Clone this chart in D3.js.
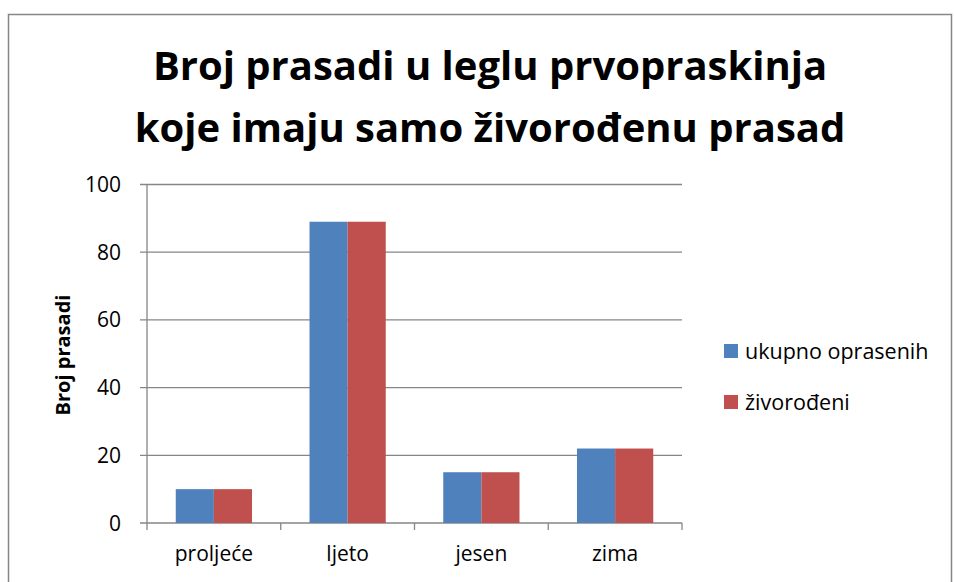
<!DOCTYPE html>
<html><head><meta charset="utf-8">
<script src="https://cdn.jsdelivr.net/npm/d3@7/dist/d3.min.js"></script>
<style>body{margin:0;background:#fff}svg{display:block}text{font-family:"Open Sans","Liberation Sans",sans-serif;fill:#000}</style>
</head><body><svg id="c" width="955" height="582"></svg>
<script>
const categories = ["proljeće","ljeto","jesen","zima"];
const seriesNames = ["ukupno oprasenih","živorođeni"];
const ukupno = [10,89,15,22];
const zivorodeni = [10,89,15,22];
const yTicks = [0,20,40,60,80,100];
const colors = ["#4F81BD","#C0504D"];
const series = [ukupno, zivorodeni];

const svg = d3.select("#c");
svg.append("rect").attr("x",8.5).attr("y",14.5).attr("width",943).attr("height",580)
  .attr("fill","#fff").attr("stroke","#868686").attr("stroke-width",1.5);

const L=147, R=682, T=184.5, B=523;
const x = d3.scaleBand().domain(categories).range([L,R]).paddingInner(0.43).paddingOuter(0.215);
const xs = d3.scaleBand().domain([0,1]).range([0,x.bandwidth()]);
const y = d3.scaleLinear().domain([0,100]).range([B,T]);

// grid
svg.append("g").selectAll("line").data(yTicks).join("line")
  .attr("x1",L-7).attr("x2",R).attr("y1",d=>y(d)).attr("y2",d=>y(d))
  .attr("stroke","#868686").attr("stroke-width",1.3);

// bars
categories.forEach((c,i)=>{
  series.forEach((s,j)=>{
    svg.append("rect").attr("x",x(c)+xs(j)).attr("y",y(s[i])).attr("width",xs.bandwidth()).attr("height",B-y(s[i]))
      .attr("fill",colors[j]);
  });
});

// axes
svg.append("line").attr("x1",L).attr("x2",L).attr("y1",T).attr("y2",B).attr("stroke","#868686").attr("stroke-width",1.3);
const step = (R-L)/categories.length;
d3.range(categories.length+1).forEach(k=>{
  svg.append("line").attr("x1",L+k*step).attr("x2",L+k*step).attr("y1",B).attr("y2",B+7).attr("stroke","#868686").attr("stroke-width",1.3);
});

svg.append("g").selectAll("text").data(yTicks).join("text")
  .attr("x",121).attr("y",d=>y(d)).attr("dy","0.36em").attr("text-anchor","end")
  .style("font-size","21px").text(d=>d);

svg.append("g").selectAll("text").data(categories).join("text")
  .attr("x",d=>x(d)+x.bandwidth()/2).attr("y",561).attr("text-anchor","middle")
  .style("font-size","21px").text(d=>d);

svg.append("text").attr("transform","translate(70,355) rotate(-90)").attr("text-anchor","middle")
  .style("font-size","20px").style("font-weight","bold").text("Broj prasadi");

const title = ["Broj prasadi u leglu prvopraskinja","koje imaju samo živorođenu prasad"];
svg.append("g").selectAll("text").data(title).join("text")
  .attr("x",490).attr("y",(d,i)=>80+i*62).attr("text-anchor","middle")
  .style("font-size","40px").style("font-weight","bold").text(d=>d);

const lg = svg.append("g");
seriesNames.forEach((n,i)=>{
  lg.append("rect").attr("x",724).attr("y",344+i*51).attr("width",14).attr("height",14).attr("fill",colors[i]);
  lg.append("text").attr("x",745).attr("y",351+i*51).attr("dy","0.36em").style("font-size","21.5px").text(n);
});
</script></body></html>
